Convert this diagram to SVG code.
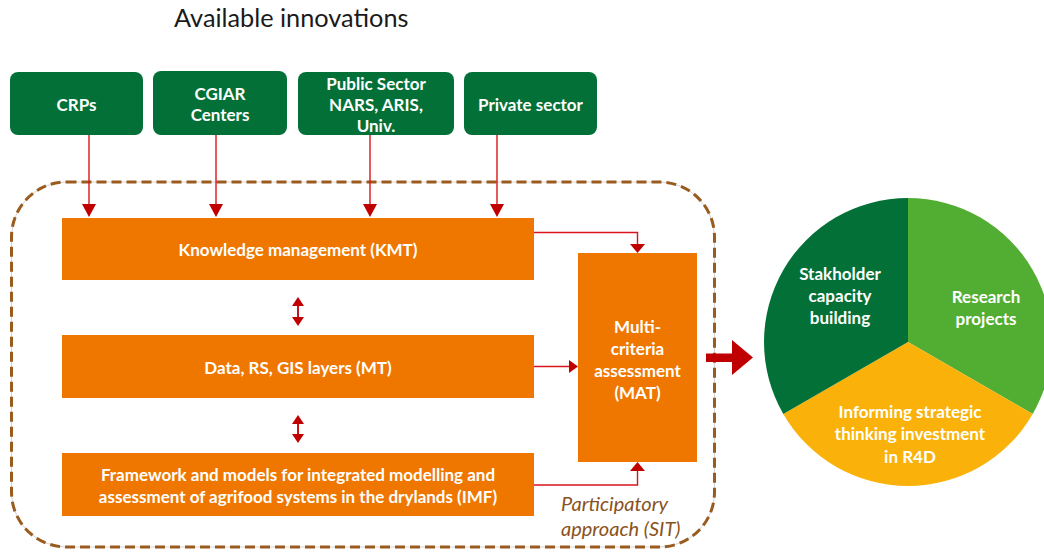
<svg xmlns="http://www.w3.org/2000/svg" width="1044" height="552" viewBox="0 0 1044 552">
  <defs>
    <style>
      .src { fill: #037137; }
      .blk { fill: #ef7700; }
      .lbl { font-family: Lato, "Liberation Sans", sans-serif; font-weight: bold; font-size: 17px; fill: #ffffff; text-anchor: middle; dominant-baseline: central; }
      .title { font-family: Lato, "Liberation Sans", sans-serif; font-size: 25.3px; fill: #1a1a1a; }
      .note { font-family: Lato, "Liberation Sans", sans-serif; font-style: italic; font-size: 20px; fill: #8a5220; }
      .wire { fill: none; stroke: #d9141b; stroke-width: 1.4; }
      .wire2 { fill: none; stroke: #c3161c; stroke-width: 2; }
      .head { fill: #c00000; }
    </style>
  </defs>

  <rect width="1044" height="552" fill="#ffffff"/>

  <text class="title" x="174" y="27">Available innovations</text>

  <!-- participatory boundary: thin grey guide under a brown dashed line -->
  <g id="boundary">
    <rect x="11.5" y="182" width="703" height="365" rx="55" ry="55" fill="none" stroke="#c8c8c8" stroke-width="0.8"/>
    <rect x="11.5" y="182" width="703" height="365" rx="55" ry="55" fill="none" stroke="#9a5b1e" stroke-width="3" stroke-dasharray="10 5"/>
    <text class="note" x="561" y="511">Participatory</text>
    <text class="note" x="561" y="536">approach (SIT)</text>
  </g>

  <!-- innovation sources -->
  <g id="crps">
    <rect class="src" x="10" y="72" width="133" height="63" rx="8"/>
    <text class="lbl" x="76.5" y="104">CRPs</text>
  </g>
  <g id="cgiar">
    <rect class="src" x="153" y="71" width="134" height="64" rx="8"/>
    <text class="lbl" x="220" y="93">CGIAR</text>
    <text class="lbl" x="220" y="114">Centers</text>
  </g>
  <g id="public">
    <rect class="src" x="298" y="72" width="156" height="63" rx="8"/>
    <text class="lbl" x="376" y="83">Public Sector</text>
    <text class="lbl" x="376" y="104">NARS, ARIS,</text>
    <text class="lbl" x="376" y="125">Univ.</text>
  </g>
  <g id="private">
    <rect class="src" x="464" y="72" width="133" height="63" rx="8"/>
    <text class="lbl" x="530.5" y="104">Private sector</text>
  </g>

  <!-- tool blocks -->
  <g id="kmt">
    <rect class="blk" x="62" y="218" width="472" height="62"/>
    <text class="lbl" x="298" y="249">Knowledge management (KMT)</text>
  </g>
  <g id="mt">
    <rect class="blk" x="62" y="335" width="472" height="63"/>
    <text class="lbl" x="298" y="367">Data, RS, GIS layers (MT)</text>
  </g>
  <g id="imf">
    <rect class="blk" x="62" y="453" width="472" height="63"/>
    <text class="lbl" x="298" y="474">Framework and models for integrated modelling and</text>
    <text class="lbl" x="298" y="496">assessment of agrifood systems in the drylands (IMF)</text>
  </g>
  <g id="mat">
    <rect class="blk" x="578" y="253" width="119" height="209"/>
    <text class="lbl" x="637.5" y="326">Multi-</text>
    <text class="lbl" x="637.5" y="348">criteria</text>
    <text class="lbl" x="637.5" y="370">assessment</text>
    <text class="lbl" x="637.5" y="392">(MAT)</text>
  </g>

  <!-- outcomes -->
  <g id="outcomes">
    <path d="M908,342 L908,198 A144,144 0 0 1 1032.7,414 Z" fill="#52ae32"/>
    <path d="M908,342 L1032.7,414 A144,144 0 0 1 783.3,414 Z" fill="#fab20b"/>
    <path d="M908,342 L783.3,414 A144,144 0 0 1 908,198 Z" fill="#037137"/>
    <text class="lbl" x="840" y="273">Stakholder</text>
    <text class="lbl" x="840" y="295">capacity</text>
    <text class="lbl" x="840" y="317">building</text>
    <text class="lbl" x="986" y="296">Research</text>
    <text class="lbl" x="986" y="318">projects</text>
    <text class="lbl" x="910" y="411">Informing strategic</text>
    <text class="lbl" x="910" y="433">thinking investment</text>
    <text class="lbl" x="910" y="456">in R4D</text>
  </g>

  <!-- connectors -->
  <g id="connectors">
    <path class="wire" d="M89,135 V205"/>
    <polygon class="head" points="82,204 96,204 89,217"/>
    <path class="wire" d="M216,135 V205"/>
    <polygon class="head" points="209,204 223,204 216,217"/>
    <path class="wire" d="M370,135 V205"/>
    <polygon class="head" points="363,204 377,204 370,217"/>
    <path class="wire" d="M497,135 V205"/>
    <polygon class="head" points="490,204 504,204 497,217"/>

    <path class="wire" d="M534,232.5 H637.5 V245"/>
    <polygon class="head" points="630,244 645,244 637.5,253"/>

    <path class="wire" d="M534,366.5 H570"/>
    <polygon class="head" points="569,360 578,366.5 569,373"/>

    <path class="wire" d="M534,485 H637.5 V470"/>
    <polygon class="head" points="630,471 645,471 637.5,462"/>

    <path class="wire2" d="M298,305 V318"/>
    <polygon class="head" points="292,306 304,306 298,297"/>
    <polygon class="head" points="292,317 304,317 298,326"/>
    <path class="wire2" d="M298,423 V435"/>
    <polygon class="head" points="292,424 304,424 298,415"/>
    <polygon class="head" points="292,434 304,434 298,443"/>

    <polygon class="head" points="706,353.5 732,353.5 732,340 753,357.5 732,375 732,362 706,362"/>
  </g>
</svg>
